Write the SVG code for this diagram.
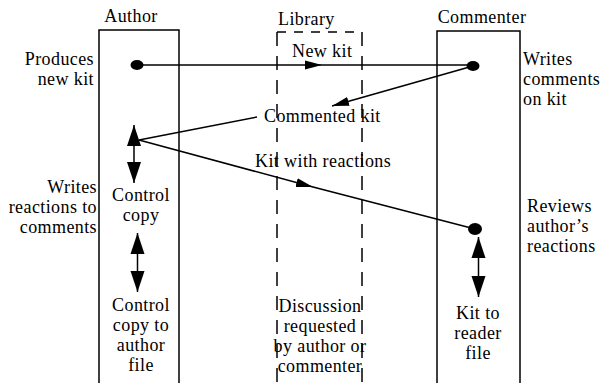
<svg xmlns="http://www.w3.org/2000/svg" width="603" height="383" viewBox="0 0 603 383" font-family="Liberation Serif" font-size="18">
<style>
.t{font-family:'Liberation Serif',serif;font-size:18px;fill:#000;letter-spacing:0.4px}
.mid{text-anchor:middle}
.end{text-anchor:end}
.box{fill:none;stroke:#000;stroke-width:1.5}
.dash{fill:none;stroke:#000;stroke-width:1.5;stroke-dasharray:14 10}
.conn{fill:none;stroke:#000;stroke-width:1.5}
.dbl{stroke:#000;stroke-width:1.5;marker-start:url(#big);marker-end:url(#big)}
</style>
<defs>
<marker id="arr" markerUnits="userSpaceOnUse" markerWidth="18" markerHeight="10" viewBox="0 0 18 10" refX="17" refY="5" orient="auto">
<path d="M0,0.5 L17,5 L0,9.5 Z" fill="#000"/>
</marker>
<marker id="big" markerUnits="userSpaceOnUse" markerWidth="22" markerHeight="15" viewBox="0 0 22 15" refX="21" refY="7.5" orient="auto-start-reverse">
<path d="M0,0.5 L21,7.5 L0,14.5 Z" fill="#000"/>
</marker>
</defs>
<g id="author">
<rect class="box" x="99" y="30" width="80" height="360"/>
<text class="t mid" x="131" y="22">Author</text>
</g>
<g id="library">
<line class="dash" x1="277" y1="32" x2="277" y2="383"/>
<line class="dash" x1="362" y1="32" x2="362" y2="383"/>
<line class="conn" x1="277" y1="32" x2="362" y2="32" style="stroke-dasharray:9 8"/>
<text class="t" x="278" y="25">Library</text>
</g>
<g id="commenter">
<rect class="box" x="437" y="31" width="83" height="360"/>
<text class="t mid" x="482" y="23">Commenter</text>
</g>
<g id="produces">
<text class="t end" x="94" y="65">Produces</text>
<text class="t end" x="94" y="85">new kit</text>
</g>
<g id="writes-reactions">
<text class="t end" x="97" y="193">Writes</text>
<text class="t end" x="97" y="213">reactions to</text>
<text class="t end" x="97" y="233">comments</text>
</g>
<g id="control-copy">
<text class="t mid" x="141" y="201">Control</text>
<text class="t mid" x="141" y="221">copy</text>
</g>
<g id="control-copy-file">
<text class="t mid" x="141" y="311">Control</text>
<text class="t mid" x="141" y="331">copy to</text>
<text class="t mid" x="141" y="351">author</text>
<text class="t mid" x="141" y="371">file</text>
</g>
<g id="discussion">
<text class="t mid" x="320" y="312">Discussion</text>
<text class="t mid" x="320" y="332">requested</text>
<text class="t mid" x="320" y="352">by author or</text>
<text class="t mid" x="320" y="372">commenter</text>
</g>
<g id="writes-comments">
<text class="t" x="523" y="65">Writes</text>
<text class="t" x="523" y="85">comments</text>
<text class="t" x="523" y="105">on kit</text>
</g>
<g id="reviews">
<text class="t" x="527" y="212">Reviews</text>
<text class="t" x="527" y="232">author’s</text>
<text class="t" x="527" y="252">reactions</text>
</g>
<g id="kit-to-reader">
<text class="t mid" x="478" y="319">Kit to</text>
<text class="t mid" x="478" y="339">reader</text>
<text class="t mid" x="478" y="359">file</text>
</g>
<g id="dots">
<ellipse cx="137" cy="65" rx="6.5" ry="5"/>
<ellipse cx="473" cy="66" rx="6.5" ry="5"/>
<ellipse cx="475" cy="229" rx="7" ry="6"/>
</g>
<g id="connectors">
<path class="conn" d="M137,65 L322,65 L473,65" marker-mid="url(#arr)"/>
<text class="t" x="292" y="57">New kit</text>
<path class="conn" d="M473,66 L332,106" marker-end="url(#arr)"/>
<text class="t" x="264" y="122">Commented kit</text>
<path class="conn" d="M257,117 L139,140"/>
<path class="conn" d="M139,140 L313,187 L475,229" marker-mid="url(#arr)"/>
<text class="t" x="255" y="167">Kit with reactions</text>
<line class="dbl" x1="134" y1="125" x2="134" y2="183"/>
<line class="dbl" x1="137.5" y1="233" x2="137.5" y2="292"/>
<line class="dbl" x1="478.5" y1="237" x2="478.5" y2="297"/>
</g>
</svg>
